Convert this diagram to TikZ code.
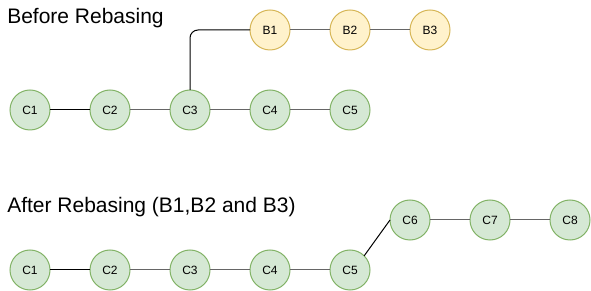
\documentclass[tikz,border=0pt]{standalone}
\usepackage{fontspec}
\setmainfont{Liberation Sans}
\usepackage{xcolor}
\usetikzlibrary{positioning}
\definecolor{cfill}{HTML}{D5E8D4}
\definecolor{cline}{HTML}{82B366}
\definecolor{bfill}{HTML}{FFF2CC}
\definecolor{bline}{HTML}{D6B656}
\definecolor{edgegray}{HTML}{666666}

\begin{document}
\begin{tikzpicture}[x=0.75pt, y=-0.75pt,
      node distance=30pt,
      commit/.style={circle, draw=cline, fill=cfill, line width=0.75pt,
                     minimum size=30pt, inner sep=0pt, outer sep=0pt,
                     font=\fontsize{9}{10}\selectfont},
      branch/.style={commit, draw=bline, fill=bfill},
      title/.style={anchor=base west, inner sep=0pt, font=\fontsize{15.75}{18}\selectfont},
      link/.style={draw=edgegray, line width=0.75pt},
      blink/.style={draw=black, line width=0.75pt}]
    \useasboundingbox (0,0) rectangle (591,291);
    % before rebasing
    \node[title] (before) at (7,24) {Before Rebasing};
    \node[commit] (c1) at (30,110) {C1};
    \node[commit, right=of c1] (c2) {C2};
    \node[commit, right=of c2] (c3) {C3};
    \node[commit, right=of c3] (c4) {C4};
    \node[commit, right=of c4] (c5) {C5};
    \node[branch] (b1) at (270,30) {B1};
    \node[branch, right=of b1] (b2) {B2};
    \node[branch, right=of b2] (b3) {B3};
    \draw[blink] (c1) -- (c2);
    \draw[link] (c2) -- (c3);
    \draw[link] (c3) -- (c4);
    \draw[link] (c4) -- (c5);
    \draw[blink, rounded corners=6pt] (c3.north) |- (b1.west);
    \draw[link] (b1) -- (b2);
    \draw[link] (b2) -- (b3);
    % after rebasing
    \node[title] (after) at (7,213) {After Rebasing (B1,B2 and B3)};
    \node[commit] (d1) at (30,270) {C1};
    \node[commit, right=of d1] (d2) {C2};
    \node[commit, right=of d2] (d3) {C3};
    \node[commit, right=of d3] (d4) {C4};
    \node[commit, right=of d4] (d5) {C5};
    \node[commit] (d6) at (410,220) {C6};
    \node[commit, right=of d6] (d7) {C7};
    \node[commit, right=of d7] (d8) {C8};
    \draw[blink] (d1) -- (d2);
    \draw[link] (d2) -- (d3);
    \draw[link] (d3) -- (d4);
    \draw[link] (d4) -- (d5);
    \draw[blink] (d5.north east) -- (d6.west);
    \draw[link] (d6) -- (d7);
    \draw[link] (d7) -- (d8);
  \end{tikzpicture}
\end{document}
